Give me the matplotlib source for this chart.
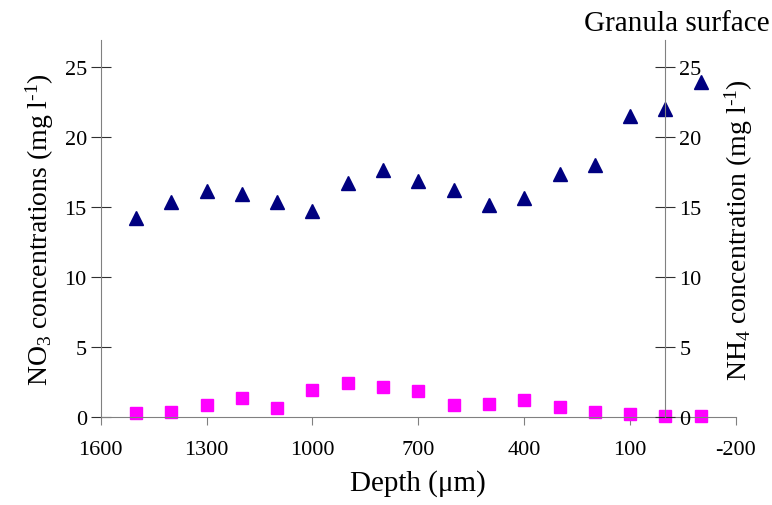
import matplotlib
matplotlib.use("Agg")
import matplotlib.pyplot as plt

plt.rcParams['font.family'] = ['Liberation Serif', 'DejaVu Serif']
plt.rcParams['mathtext.fontset'] = 'custom'
plt.rcParams['mathtext.rm'] = 'Liberation Serif'
plt.rcParams['mathtext.it'] = 'Liberation Serif:italic'

depth = [1500, 1400, 1300, 1200, 1100, 1000, 900, 800, 700, 600, 500, 400, 300, 200, 100, 0, -100]
triangles = [14.2, 15.3, 16.1, 15.9, 15.3, 14.7, 16.7, 17.6, 16.8, 16.2, 15.1, 15.6, 17.3, 18.0, 21.5, 22.0, 23.9]
squares = [0.25, 0.35, 0.8, 1.3, 0.6, 1.9, 2.4, 2.1, 1.8, 0.85, 0.9, 1.2, 0.7, 0.3, 0.2, 0.05, 0.05]
xticks = [1600, 1300, 1000, 700, 400, 100, -200]
yticks = [0, 5, 10, 15, 20, 25]

W, H = 772, 506
fig = plt.figure(figsize=(W / 100, H / 100), dpi=100)
x0, x1 = 100.7, 736
y0, y1 = 417.7, 41
ax = fig.add_axes([x0 / W, 1 - y0 / H, (x1 - x0) / W, (y0 - y1) / H])
ax2 = ax.twinx()

spine_c = '#808080'
for a in (ax, ax2):
    a.set_xlim(1600, -200)
    a.set_ylim(0, 26.9)
    a.set_yticks(yticks)
    a.patch.set_visible(False)
    for s in a.spines.values():
        s.set_visible(False)

ax.spines['left'].set_visible(True)
ax.spines['bottom'].set_visible(True)
ax.spines['left'].set_color(spine_c)
ax.spines['bottom'].set_color(spine_c)
ax2.spines['right'].set_visible(True)
ax2.spines['right'].set_color(spine_c)
ax2.spines['right'].set_position(('data', 0))

ax.set_xticks(xticks)
ax.set_xticklabels([str(v) for v in xticks])
ax.tick_params(axis='x', direction='out', length=6, color=spine_c, labelsize=16, pad=11)
ax.tick_params(axis='y', direction='inout', length=14, color='#303030', labelsize=16, pad=3)
ax2.tick_params(axis='y', direction='inout', length=14, color='#303030', labelsize=16, pad=3)

ax.plot(depth, squares, linestyle='none', marker='s', markersize=8, color='#FF00FF', clip_on=False)
ax2.plot(depth, triangles, linestyle='none', marker='^', markersize=9.5, color='#000080', clip_on=False)

ax.set_xlabel('Depth (\u03bcm)', fontsize=21, labelpad=7)
ax.set_ylabel('NO$_3$ concentrations (mg l$^{\\text{-1}}$)', fontsize=20, labelpad=6)
fig.text(739 / W, 1 - 230 / H, 'NH$_4$ concentration (mg l$^{\\text{-1}}$)', fontsize=20,
         rotation=90, ha='center', va='center')
fig.text(770 / W, 1 - 24 / H, 'Granula surface', fontsize=21, ha='right', va='center')

fig.savefig('out.png', dpi=100)
